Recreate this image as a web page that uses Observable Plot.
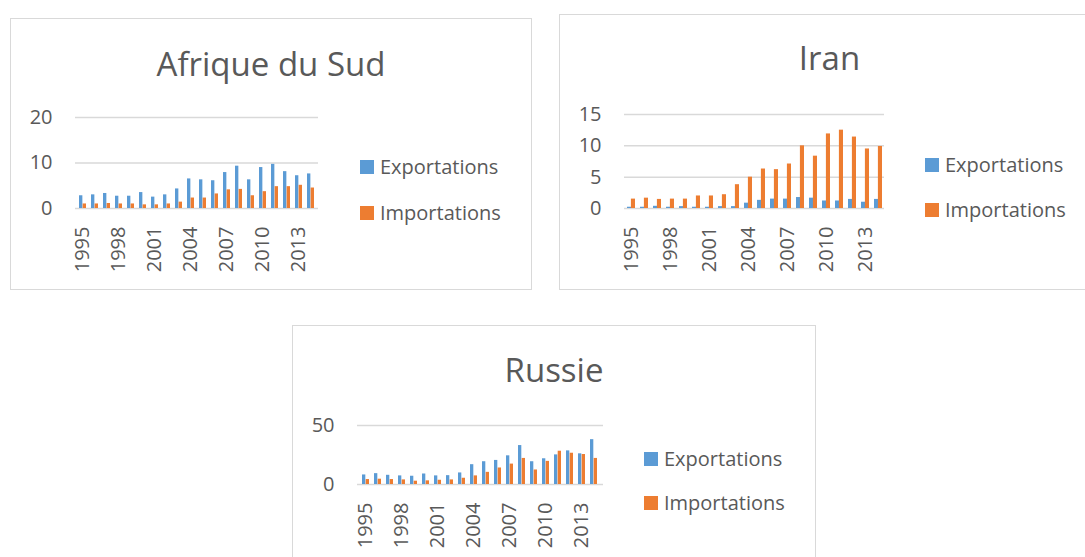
<!DOCTYPE html>
<html><head><meta charset="utf-8">
<script src="https://cdn.jsdelivr.net/npm/d3@7"></script>
<script src="https://cdn.jsdelivr.net/npm/@observablehq/plot@0.6"></script>
<style>
html,body{margin:0;padding:0;background:#fff}
body{width:1085px;height:557px;overflow:hidden;position:relative;font-family:"Open Sans",sans-serif;color:#595959}
.box{position:absolute;border:1.5px solid #d9d9d9;box-sizing:border-box}
.title{position:absolute;font-size:33px;transform:translateX(-50%);white-space:nowrap;line-height:1}
.leg{position:absolute;display:flex;align-items:center;font-size:20px;line-height:20px;height:20px;white-space:nowrap}
.sw{width:14px;height:14px;margin-right:6px;flex:none}
.chart{position:absolute}
.chart svg{overflow:visible}
.chart svg text{font-size:20px !important;font-family:"Open Sans",sans-serif !important}
</style></head><body>
<script>
// ---- data ----
const years = [1995,1996,1997,1998,1999,2000,2001,2002,2003,2004,2005,2006,2007,2008,2009,2010,2011,2012,2013,2014];
const tickYears = [1995,1998,2001,2004,2007,2010,2013];
const seriesNames = ["Exportations","Importations"];
const seriesColors = ["#5B9BD5","#ED7D31"];
const titles = ["Afrique du Sud","Iran","Russie"];

const afsExports = [2.8,3.0,3.3,2.7,2.7,3.5,2.5,3.0,4.3,6.5,6.3,6.1,7.9,9.3,6.3,9.0,9.7,8.1,7.2,7.6];
const afsImports = [1.0,1.0,1.1,1.0,1.0,0.8,0.8,1.0,1.4,2.3,2.3,3.2,4.1,4.2,2.8,3.7,4.8,4.8,5.1,4.5];
const iranExports = [0.2,0.2,0.35,0.2,0.3,0.2,0.2,0.3,0.3,0.85,1.3,1.5,1.5,1.75,1.65,1.2,1.2,1.45,1.0,1.45];
const iranImports = [1.5,1.65,1.45,1.5,1.5,2.0,2.0,2.2,3.8,5.0,6.3,6.2,7.1,10.0,8.35,11.9,12.5,11.4,9.5,9.9];
const russieExports = [8.1,9.2,7.8,7.3,7.0,8.9,7.3,7.5,9.8,16.8,19.3,20.4,24.3,33.0,19.3,21.8,25.1,28.5,26.0,38.0];
const russieImports = [4.2,4.5,4.2,3.9,2.8,3.1,3.6,3.9,5.3,7.3,10.3,14.0,17.3,22.1,12.3,19.6,28.2,26.5,25.4,22.1];

const afsTicks = [0,10,20];
const iranTicks = [0,5,10,15];
const russieTicks = [0,50];

// ---- layout ----
const panels = [
  {title: titles[0], exp: afsExports, imp: afsImports, ticks: afsTicks,
   box: [10, 18, 522, 272], titleX: 271, titleTop: 46.5,
   svg: [10, 18, 320, 272], m: [99, 12, 82, 65], legX: 360, legY: [167, 212.5]},
  {title: titles[1], exp: iranExports, imp: iranImports, ticks: iranTicks,
   box: [559, 14, 541, 276], titleX: 829.5, titleTop: 40.5,
   svg: [559, 14, 340, 276], m: [100, 15, 82, 65], legX: 925, legY: [165, 210]},
  {title: titles[2], exp: russieExports, imp: russieImports, ticks: russieTicks,
   box: [292, 325, 524, 260], titleX: 554, titleTop: 352.5,
   svg: [292, 325, 320, 232], m: [100, 9, 73, 65], legX: 644, legY: [458.5, 503]}
];

function el(cls, css) {
  const d = document.createElement("div");
  d.className = cls;
  Object.assign(d.style, css);
  document.body.appendChild(d);
  return d;
}

for (const p of panels) {
  el("box", {left: p.box[0]+"px", top: p.box[1]+"px", width: p.box[2]+"px", height: p.box[3]+"px"});
  const t = el("title", {left: p.titleX+"px", top: p.titleTop+"px"});
  t.textContent = p.title;

  const data = years.map((y, i) => ({year: y, exp: p.exp[i], imp: p.imp[i]}));
  const [sx, sy, W, H] = p.svg;
  const [mt, mr, mb, ml] = p.m;
  const pi = 0.4;
  const step = (W - ml - mr) / years.length;
  const bw = step * (1 - pi);
  const chart = Plot.plot({
    width: W, height: H,
    marginTop: mt, marginRight: mr, marginBottom: mb, marginLeft: ml,
    style: {fontFamily: "'Open Sans', sans-serif", fontSize: "20px", color: "#595959", background: "transparent", overflow: "visible"},
    x: {type: "band", domain: years, paddingInner: pi, paddingOuter: pi / 2,
        tickFormat: d => tickYears.includes(d) ? String(d) : "",
        tickRotate: -90, tickSize: 0, tickPadding: 18, label: null},
    y: {domain: [0, d3.max(p.ticks)], ticks: p.ticks, tickSize: 0, tickPadding: 23, label: null},
    marks: [
      Plot.ruleY(p.ticks, {stroke: "#d9d9d9", strokeWidth: 1.5}),
      Plot.barY(data, {x: "year", y: "exp", fill: seriesColors[0], insetRight: bw / 2}),
      Plot.barY(data, {x: "year", y: "imp", fill: seriesColors[1], insetLeft: bw / 2})
    ]
  });
  const holder = el("chart", {left: sx+"px", top: sy+"px", width: W+"px", height: H+"px"});
  holder.appendChild(chart);

  seriesNames.forEach((name, i) => {
    const lg = el("leg", {left: p.legX+"px", top: (p.legY[i] - 10)+"px"});
    const sw = document.createElement("div");
    sw.className = "sw";
    sw.style.background = seriesColors[i];
    lg.appendChild(sw);
    const sp = document.createElement("span");
    sp.textContent = name;
    lg.appendChild(sp);
  });
}
</script>
</body></html>
